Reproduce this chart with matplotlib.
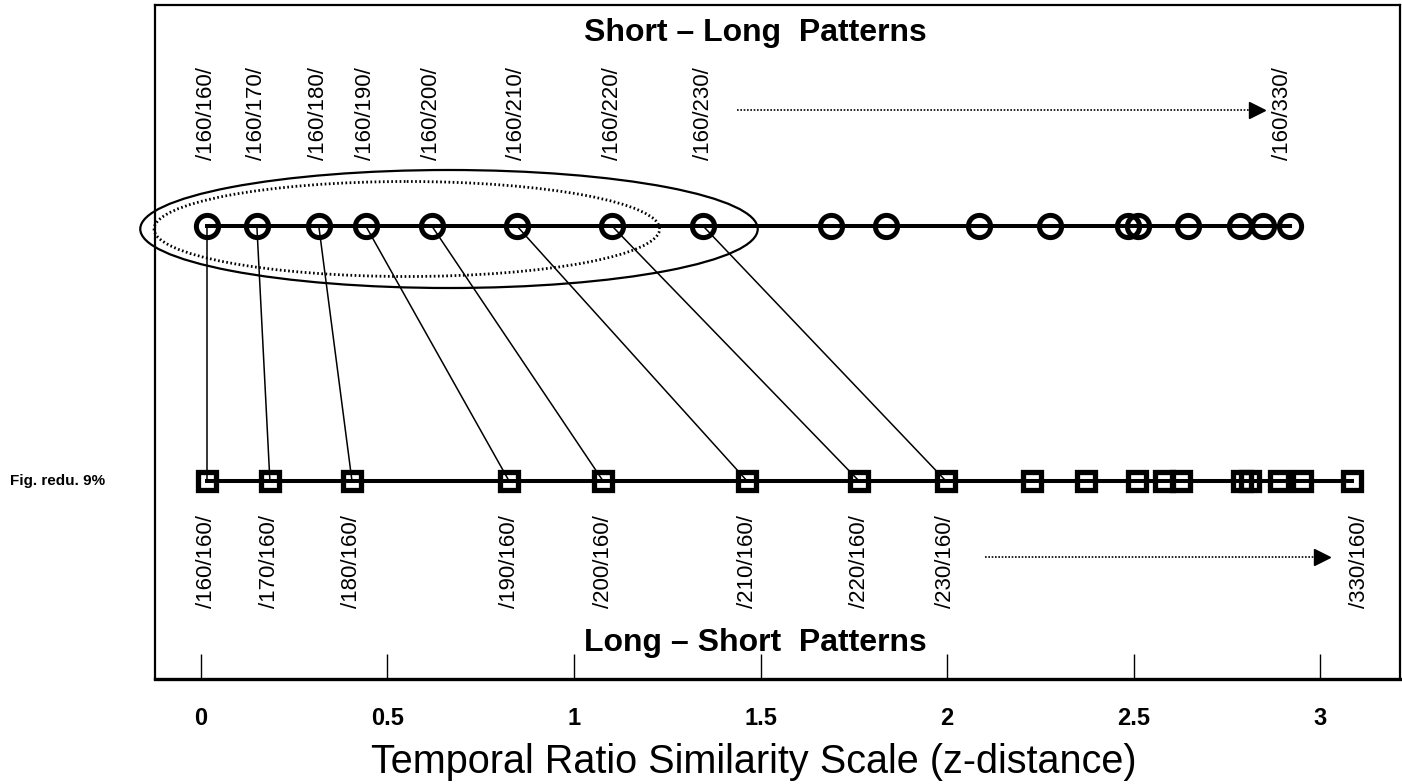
import matplotlib.pyplot as plt
from matplotlib.patches import Ellipse

plt.rcParams['font.family'] = ['Liberation Sans', 'DejaVu Sans']

# z-distance of each pattern
short_long_z = [0.016, 0.150, 0.316, 0.442, 0.619, 0.847, 1.102, 1.346, 1.689,
                1.836, 2.086, 2.276, 2.485, 2.512, 2.646, 2.786, 2.847, 2.920]
long_short_z = [0.016, 0.185, 0.405, 0.826, 1.078, 1.464, 1.764, 1.997, 2.228,
                2.373, 2.509, 2.582, 2.627, 2.791, 2.812, 2.890, 2.952, 3.086]

# labelled patterns (first 8 of each row + the last one)
short_long_labels = ['/160/160/', '/160/170/', '/160/180/', '/160/190/',
                     '/160/200/', '/160/210/', '/160/220/', '/160/230/']
long_short_labels = ['/160/160/', '/170/160/', '/180/160/', '/190/160/',
                     '/200/160/', '/210/160/', '/220/160/', '/230/160/']
short_long_last = '/160/330/'
long_short_last = '/330/160/'

xticks = [0, 0.5, 1, 1.5, 2, 2.5, 3]
xtick_labels = ['0', '0.5', '1', '1.5', '2', '2.5', '3']

# rows in pixel-ish units (y axis inverted, no scale shown)
Y_TOP = 226
Y_BOT = 481

fig = plt.figure(figsize=(14.02, 7.84), dpi=100)
ax = fig.add_axes([155 / 1402, 1 - 679 / 784, 1245 / 1402, 674 / 784])
ax.set_xlim(-0.123, 3.214)
ax.set_ylim(679, 5)

# connectors between matching patterns
for a, b in zip(short_long_z[:8], long_short_z[:8]):
    ax.plot([a, b], [Y_TOP, Y_BOT], color='black', lw=1.1, zorder=2)

# the two rows
ax.plot(short_long_z, [Y_TOP] * len(short_long_z), color='black', lw=2.9,
        marker='o', ms=16, mew=3.6, mfc='none', mec='black', zorder=3)
ax.plot(long_short_z, [Y_BOT] * len(long_short_z), color='black', lw=2.9,
        marker='s', ms=13.5, mew=3.8, mfc='none', mec='black', zorder=3)

# grouping ellipses
ax.add_patch(Ellipse((0.665, 229), 1.655, 118, fill=False, lw=1.6, ec='black',
                     clip_on=False))
ax.add_patch(Ellipse((0.552, 229), 1.355, 95, fill=False, lw=2.0, ec='black',
                     ls=(0, (0.6, 0.9)), clip_on=False))

# pattern labels
for z, lab in zip(short_long_z[:8], short_long_labels):
    ax.text(z, 160, lab, rotation=90, ha='center', va='bottom', fontsize=16)
ax.text(short_long_z[-1] - 0.02, 160, short_long_last, rotation=90,
        ha='center', va='bottom', fontsize=16)
for z, lab in zip(long_short_z[:8], long_short_labels):
    ax.text(z, 515, lab, rotation=90, ha='center', va='top', fontsize=16)
ax.text(long_short_z[-1] + 0.02, 515, long_short_last, rotation=90,
        ha='center', va='top', fontsize=16)

# dotted "continues" arrows
ax.plot([1.437, 2.83], [110, 110], color='black', lw=1.2, ls=(0, (1, 1)))
ax.plot([2.83], [110], marker='>', color='black', ms=11)
ax.plot([2.102, 3.005], [557, 557], color='black', lw=1.2, ls=(0, (1, 1)))
ax.plot([3.005], [557], marker='>', color='black', ms=11)

ax.text(1.485, 33, 'Short \u2013 Long  Patterns', ha='center', va='center',
        fontsize=23, fontweight='bold')
ax.text(1.485, 643, 'Long \u2013 Short  Patterns', ha='center', va='center',
        fontsize=23, fontweight='bold')

fig.text(10 / 1402, 1 - 481 / 784, 'Fig. redu. 9%', ha='left', va='center',
         fontsize=11, fontweight='bold')

ax.set_xticks(xticks)
ax.set_xticklabels(xtick_labels, fontsize=17, fontweight='bold')
ax.tick_params(axis='x', direction='in', length=18, width=1.0, pad=20)
ax.set_yticks([])
for side in ['left', 'top', 'right']:
    ax.spines[side].set_linewidth(1.6)
ax.spines['bottom'].set_linewidth(2.4)

ax.set_xlabel('Temporal Ratio Similarity Scale (z-distance)', fontsize=28.5,
              va='center')
ax.xaxis.set_label_coords((754 - 155) / 1245, (679 - 762) / 674)

fig.savefig('out.png', dpi=100)
